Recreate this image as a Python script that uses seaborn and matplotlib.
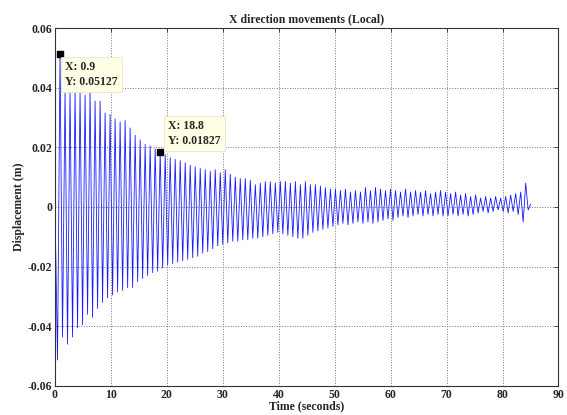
import numpy as np
import pandas as pd
import matplotlib
matplotlib.use("Agg")
import matplotlib.pyplot as plt
import seaborn as sns

# Oscillation: one positive and one negative peak per cycle
period = 0.895
pos_peaks = [0.0513, 0.039, 0.039, 0.039, 0.0385, 0.0375, 0.0385, 0.0355, 0.0355, 0.0315,
             0.031, 0.0295, 0.0285, 0.029, 0.0265, 0.024, 0.0225, 0.021, 0.0205, 0.0195,
             0.0183, 0.0175, 0.0165, 0.016, 0.0155, 0.0148, 0.014, 0.0135, 0.013, 0.0125,
             0.012, 0.0125, 0.0115, 0.0125, 0.011, 0.010, 0.0095, 0.0095, 0.009, 0.0075,
             0.008, 0.0085, 0.0085, 0.008, 0.0085, 0.0085, 0.008, 0.0085, 0.0075, 0.0085,
             0.0075, 0.0075, 0.0070, 0.0065, 0.0060, 0.0060, 0.0055, 0.0060, 0.0050, 0.0055,
             0.0050, 0.0065, 0.0055, 0.0065, 0.0060, 0.0055, 0.0060, 0.0055, 0.0050, 0.0060,
             0.0050, 0.0055, 0.0050, 0.0055, 0.0045, 0.0050, 0.0055, 0.0050, 0.0045, 0.0050,
             0.0040, 0.0045, 0.0035, 0.0040, 0.0030, 0.0035, 0.0030, 0.0035, 0.0030, 0.0035,
             0.0040, 0.0045, 0.0050, 0.0080, 0.0010]
neg_peaks = [-0.0513, -0.0436, -0.046, -0.0436, -0.0405, -0.0395, -0.036, -0.037, -0.034, -0.032,
             -0.0305, -0.0295, -0.0285, -0.028, -0.027, -0.027, -0.025, -0.024, -0.023, -0.022,
             -0.0215, -0.0205, -0.0195, -0.019, -0.0185, -0.018, -0.0175, -0.017, -0.0165, -0.0155,
             -0.015, -0.014, -0.013, -0.0125, -0.012, -0.0115, -0.0115, -0.011, -0.011, -0.0105,
             -0.0105, -0.010, -0.0095, -0.009, -0.0085, -0.009, -0.0095, -0.010, -0.0105, -0.0105,
             -0.0095, -0.0085, -0.008, -0.0075, -0.007, -0.0065, -0.006, -0.0055, -0.006, -0.0055,
             -0.005, -0.0055, -0.005, -0.0055, -0.005, -0.0045, -0.004, -0.0045, -0.0035, -0.003,
             -0.0035, -0.003, -0.0025, -0.003, -0.0025, -0.003, -0.0025, -0.003, -0.003, -0.0025,
             -0.003, -0.0025, -0.003, -0.0025, -0.002, -0.0015, -0.002, -0.0015, -0.001, -0.0015,
             -0.002, -0.0015, -0.0025, -0.0050, -0.001]

tip_x = [0.9, 18.8]
tip_y = [0.05127, 0.01827]
tip_labels = ["X: 0.9\nY: 0.05127", "X: 18.8\nY: 0.01827"]
tip_text_pos = [(1.8, 0.0490), (20.2, 0.0292)]

x_ticks = [0, 10, 20, 30, 40, 50, 60, 70, 80, 90]
y_ticks = [-0.06, -0.04, -0.02, 0, 0.02, 0.04, 0.06]
y_tick_labels = ["-0.06", "-0.04", "-0.02", "0", "0.02", "0.04", "0.06"]

# build the line: start at 0, then alternate trough / peak
times = [0.0]
values = [0.0]
for k in range(len(pos_peaks)):
    times.append(0.45 + period * k)
    values.append(neg_peaks[k])
    times.append(0.9 + period * k)
    values.append(pos_peaks[k])
df = pd.DataFrame({"t": times, "d": values})

sns.set_style("white")
plt.rcParams["font.family"] = ["Liberation Serif", "DejaVu Serif"]
plt.rcParams["font.weight"] = "bold"

fig = plt.figure(figsize=(5.67, 4.15), dpi=100)
ax = fig.add_axes([0.097, 0.070, 0.888, 0.8625])

sns.lineplot(data=df, x="t", y="d", ax=ax, sort=False, estimator=None,
             color="#1a1aff", linewidth=0.6)

ax.set_xlim(0, 90)
ax.set_ylim(-0.06, 0.06)
ax.set_xticks(x_ticks)
ax.set_xticklabels([str(v) for v in x_ticks])
ax.set_yticks(y_ticks)
ax.set_yticklabels(y_tick_labels)
ax.tick_params(direction="in", length=3, top=True, right=True, labelsize=8.5, pad=2,
               width=0.6)
for lab in ax.get_xticklabels() + ax.get_yticklabels():
    lab.set_fontweight("bold")
ax.grid(True, linestyle=":", color="#777777", linewidth=0.7)
for s in ax.spines.values():
    s.set_color("#333333")
    s.set_linewidth(0.8)

ax.set_title("X direction movements (Local)", fontsize=8.5, fontweight="bold", pad=4)
ax.set_xlabel("Time (seconds)", fontsize=8.5, fontweight="bold", labelpad=0)
ax.set_ylabel("Displacement (m)", fontsize=8.5, fontweight="bold", labelpad=2)

ax.scatter(tip_x, tip_y, marker="s", s=22, color="black", zorder=5)
for (x, y), lab in zip(tip_text_pos, tip_labels):
    ax.text(x, y, lab, fontsize=8.5, fontweight="bold", va="top", ha="left",
            zorder=6, linespacing=1.3,
            bbox=dict(boxstyle="square,pad=0.35", facecolor="#ffffe6",
                      edgecolor="#e8e8d0", linewidth=0.6))

fig.savefig("out.png", dpi=100)
